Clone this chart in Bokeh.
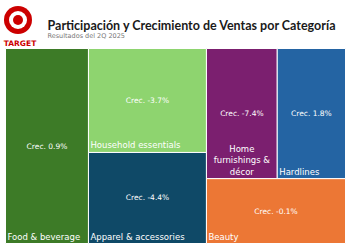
from bokeh.plotting import figure
from bokeh.models import Range1d, ColumnDataSource
from bokeh.core.properties import value
from bokeh.embed import file_html
from bokeh.resources import INLINE

# ---- data ----
categories = ["Food & beverage", "Household essentials", "Apparel & accessories",
              "Home furnishings & décor", "Hardlines", "Beauty"]
share = [24.4, 18.5, 16.2, 13.9, 13.4, 13.6]
growth = [0.9, -3.7, -4.4, -7.4, 1.8, -0.1]
colors = ["#3d7b27", "#8ed46f", "#0f4967", "#7b1f6f", "#2464a3", "#ec7735"]
title = "Participación y Crecimiento de Ventas por Categoría"
subtitle = "Resultados del 2Q 2025"

FONT = "DejaVu Sans"

# ---- treemap layout (column 1: Food; column 2: Household/Apparel; column 3: Home+Hardlines / Beauty)
X0, X1, Y0, Y1 = 5.0, 345.0, 48.0, 243.0
W, H = X1 - X0, Y1 - Y0
total = sum(share)
rects = []
c1 = share[0]
c2 = share[1] + share[2]
c3 = share[3] + share[4] + share[5]
w1 = W * c1 / total
w2 = W * c2 / total
w3 = W * c3 / total
x = X0
rects.append((x, x + w1, Y0, Y1))
x += w1
h_he = H * share[1] / c2
rects.append((x, x + w2, Y0, Y0 + h_he))
rects.append((x, x + w2, Y0 + h_he, Y1))
x += w2
top = share[3] + share[4]
h_top = H * top / c3
w_home = w3 * share[3] / top
rects.append((x, x + w_home, Y0, Y0 + h_top))
rects.append((x + w_home, X1, Y0, Y0 + h_top))
rects.append((x, X1, Y0 + h_top, Y1))

p = figure(width=350, height=250, x_range=Range1d(0, 350), y_range=Range1d(250, 0),
           output_backend="svg", toolbar_location=None, min_border=0)
p.axis.visible = False
p.grid.visible = False
p.outline_line_color = None
p.background_fill_color = "white"
p.border_fill_color = "white"

src = ColumnDataSource(dict(
    left=[r[0] for r in rects], right=[r[1] for r in rects],
    top=[r[2] for r in rects], bottom=[r[3] for r in rects], color=colors))
p.quad(left="left", right="right", top="top", bottom="bottom", fill_color="color",
       line_color="white", line_width=1, source=src)

# value labels centered
cx = [(r[0] + r[1]) / 2 for r in rects]
cy = [(r[2] + r[3]) / 2 for r in rects]
vlabels = ["Crec. %.1f%%" % g for g in growth]
p.text(x=cx, y=cy, text=vlabels, text_color="white", text_font=value(FONT),
       text_font_size="7.5px", text_align="center", text_baseline="middle")

# category labels bottom-left (wrapped & centered if too long)
lx, ly, lt, la = [], [], [], []
for name, r in zip(categories, rects):
    w = r[1] - r[0]
    if len(name) * 4.7 > w - 4:
        words = name.split(" ")
        lines, cur = [], ""
        for wd in words:
            t = (cur + " " + wd).strip()
            if len(t) * 4.7 > w - 4 and cur:
                lines.append(cur)
                cur = wd
            else:
                cur = t
        lines.append(cur)
        lt.append("\n".join(lines))
        lx.append((r[0] + r[1]) / 2)
        la.append("center")
    else:
        lt.append(name)
        lx.append(r[0] + 2)
        la.append("left")
    ly.append(r[3] - 2)
p.text(x=lx, y=ly, text=lt, text_color="white", text_font=value(FONT),
       text_font_size="8.5px", text_align=la, text_baseline="bottom",
       text_line_height=1.15)

# logo
p.scatter(x=[17.5], y=[19.5], size=28, marker="circle", fill_color="#cc0000", line_color=None)
p.scatter(x=[17.5], y=[19.5], size=18, marker="circle", fill_color="white", line_color=None)
p.scatter(x=[17.5], y=[19.5], size=10, marker="circle", fill_color="#cc0000", line_color=None)
p.text(x=[19.5], y=[43], text=["TARGET"], text_color="#cc0000", text_font=value(FONT),
       text_font_size="7.5px", text_font_style="bold", text_align="center", text_baseline="middle")

# titles
p.text(x=[47], y=[25], text=[title], text_color="#1a1a1a", text_font=value("Lato"),
       text_font_size="12.5px", text_font_style="bold", text_align="left", text_baseline="middle")
p.text(x=[47], y=[35.5], text=[subtitle], text_color="#777777", text_font=value(FONT),
       text_font_size="6.5px", text_align="left", text_baseline="middle")

open("out.html", "w").write(file_html(p, INLINE))
